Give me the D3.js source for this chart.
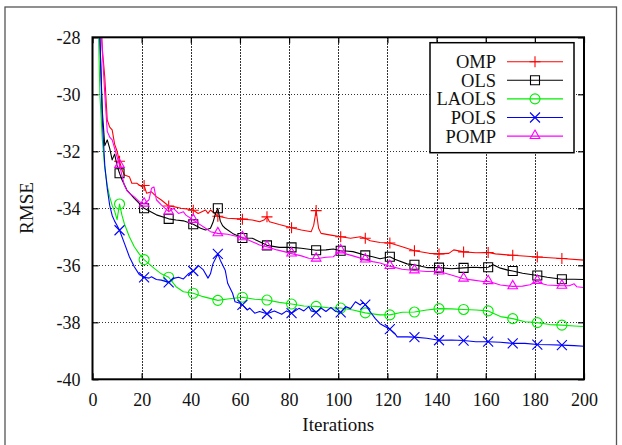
<!DOCTYPE html>
<html>
<head>
<meta charset="utf-8">
<script src="https://cdn.jsdelivr.net/npm/d3@7"></script>
<style>
  html, body { margin: 0; padding: 0; background: #fff; }
  svg { display: block; }
</style>
</head>
<body>
<script>
// RMSE (dB) versus number of iterations for five greedy pursuit algorithms.

const xTicks = [0, 20, 40, 60, 80, 100, 120, 140, 160, 180, 200];
const yTicks = [-28, -30, -32, -34, -36, -38, -40];
const markerIters = [11, 21, 31, 41, 51, 61, 71, 81, 91, 101, 111, 121, 131, 141, 151, 161, 171, 181, 191];

const ompIter = [1,2,3,4,5,6,7,8,9,10,11,12,13,15,16,18,20,21,22,24,26,28,31,33,36,39,41,43,46,47,48,50,51,55,61,65,68,70,71,72,76,81,85,89,90,91,92,93,97,101,105,109,111,113,117,121,126,131,137,141,145,147,151,156,161,164,171,181,191,200];
const ompRmse = [-20,-24,-26.8,-28.4,-29.4,-30.9,-31.15,-31.25,-31.75,-32.0,-32.35,-32.65,-32.83,-32.89,-33.12,-33.12,-33.24,-33.2,-33.47,-33.42,-33.59,-33.71,-33.92,-33.94,-34.0,-34.03,-34.07,-34.18,-34.06,-34.18,-34.06,-34.2,-34.28,-34.35,-34.38,-34.41,-34.47,-34.4,-34.3,-34.47,-34.57,-34.68,-34.76,-34.82,-34.6,-34.08,-34.7,-34.88,-34.94,-35.0,-35.05,-35.0,-35.05,-35.14,-35.2,-35.22,-35.35,-35.49,-35.58,-35.6,-35.58,-35.46,-35.53,-35.56,-35.55,-35.6,-35.65,-35.71,-35.76,-35.82];

const olsIter = [1,2,3,4,5,6,7,8,9,10,11,12,14,17,21,26,31,34,37,41,44,46,48,49,50,51,52,53,54,57,61,65,68,71,76,81,85,91,95,98,101,103,106,111,114,117,121,123,128,131,136,141,146,151,155,158,161,163,166,169,171,175,181,185,191,196,200];
const olsRmse = [-22,-25.5,-28.0,-30.6,-31.8,-31.6,-31.9,-32.3,-32.1,-32.5,-32.77,-33.0,-33.36,-33.65,-34.0,-34.23,-34.37,-34.41,-34.44,-34.56,-34.7,-34.76,-34.7,-34.5,-34.2,-34.0,-34.45,-34.62,-34.7,-34.88,-35.04,-35.05,-35.17,-35.3,-35.37,-35.37,-35.4,-35.47,-35.46,-35.43,-35.49,-35.5,-35.52,-35.65,-35.7,-35.77,-35.7,-35.79,-35.95,-35.98,-36.08,-36.08,-36.12,-36.09,-36.07,-36.08,-36.07,-35.98,-36.1,-36.17,-36.2,-36.28,-36.36,-36.42,-36.49,-36.49,-36.5];

const laolsIter = [1,2,3,4,5,6,7,8,9,10,11,12,13,15,17,19,21,25,28,31,34,37,41,45,51,55,61,66,71,76,81,86,91,96,101,106,111,117,121,126,131,136,141,146,151,156,161,166,171,176,181,186,191,196,200];
const laolsRmse = [-22,-26,-30.0,-31.6,-32.6,-33.2,-33.6,-33.9,-34.1,-34.4,-33.85,-34.25,-34.55,-35.0,-35.35,-35.6,-35.8,-36.1,-36.3,-36.42,-36.75,-36.93,-36.98,-37.1,-37.23,-37.18,-37.12,-37.19,-37.22,-37.3,-37.36,-37.43,-37.44,-37.49,-37.5,-37.57,-37.67,-37.74,-37.74,-37.65,-37.64,-37.57,-37.52,-37.53,-37.55,-37.57,-37.6,-37.8,-37.87,-37.98,-38.01,-38.08,-38.1,-38.13,-38.15];

const polsIter = [1,2,3,4,5,6,7,8,9,10,11,13,15,17,19,21,23,24,26,28,31,33,35,37,39,41,43,45,47,48,49,51,52,54,55,57,58,60,61,63,64,66,68,71,74,77,79,81,84,86,88,89,91,93,95,97,99,101,103,105,107,109,110,111,113,115,117,119,121,123,124,128,131,136,141,146,151,156,161,166,171,176,181,186,191,196,200];
const polsRmse = [-22,-25.5,-28,-30.9,-32.5,-33.3,-33.9,-34.25,-34.45,-34.6,-34.77,-35.23,-35.7,-36.05,-36.32,-36.42,-36.45,-36.4,-36.5,-36.52,-36.6,-36.46,-36.42,-36.48,-36.3,-36.2,-36.0,-36.15,-36.45,-36.3,-35.95,-35.6,-35.82,-36.17,-36.63,-36.98,-37.28,-37.33,-37.39,-37.57,-37.5,-37.68,-37.62,-37.7,-37.6,-37.72,-37.6,-37.68,-37.51,-37.6,-37.45,-37.6,-37.65,-37.5,-37.62,-37.48,-37.62,-37.65,-37.45,-37.52,-37.28,-37.39,-37.3,-37.38,-37.63,-37.86,-38.05,-38.15,-38.24,-38.39,-38.51,-38.51,-38.52,-38.56,-38.63,-38.62,-38.64,-38.68,-38.68,-38.7,-38.74,-38.74,-38.78,-38.79,-38.8,-38.82,-38.84];

const pompIter = [1,2,3,4,5,6,7,8,9,10,11,12,13,14,15,17,19,21,23,24,25,26,28,31,33,35,37,38,41,43,46,48,51,55,58,61,65,68,71,75,78,81,85,88,91,95,98,100,101,103,106,111,114,117,121,126,131,136,141,146,151,155,159,161,166,171,175,178,181,183,185,191,194,196,197,200];
const pompRmse = [-20,-24,-26.8,-28.5,-30.0,-31.3,-31.5,-31.6,-31.9,-32.2,-32.48,-32.85,-33.2,-33.38,-33.47,-33.6,-33.77,-33.84,-33.7,-33.3,-33.25,-33.7,-33.88,-34.12,-34.0,-34.18,-34.12,-34.24,-34.41,-34.53,-34.7,-34.82,-34.88,-34.91,-34.97,-35.02,-35.17,-35.29,-35.35,-35.46,-35.52,-35.59,-35.67,-35.75,-35.77,-35.72,-35.7,-35.55,-35.48,-35.6,-35.67,-35.8,-35.87,-35.92,-36.03,-36.14,-36.18,-36.22,-36.22,-36.34,-36.47,-36.52,-36.57,-36.56,-36.69,-36.74,-36.73,-36.68,-36.55,-36.65,-36.69,-36.72,-36.72,-36.65,-36.75,-36.78];

const seriesNames = ["OMP", "OLS", "LAOLS", "POLS", "POMP"];
const seriesColors = ["#ff0000", "#000000", "#00ee00", "#0000ff", "#ff00ff"];
const seriesSymbols = ["plus", "square", "circle", "cross", "triangle"];
const seriesIters = [ompIter, olsIter, laolsIter, polsIter, pompIter];
const seriesValues = [ompRmse, olsRmse, laolsRmse, polsRmse, pompRmse];

const FONT = "'Liberation Serif', serif";
const W = 622, H = 445;
const plot = { left: 92.5, right: 584, top: 37.3, bottom: 379.3 };

const x = d3.scaleLinear().domain([0, 200]).range([plot.left, plot.right]);
const y = d3.scaleLinear().domain([-40, -28]).range([plot.bottom, plot.top]);

const svg = d3.select("body").append("svg").attr("width", W).attr("height", H)
  .style("font-family", FONT);

// page frame
svg.append("rect")
  .attr("x", 5).attr("y", 7).attr("width", 611.5).attr("height", 450)
  .attr("fill", "none").attr("stroke", "#555").attr("stroke-width", 1.3);

svg.append("clipPath").attr("id", "plotClip")
  .append("rect")
  .attr("x", plot.left).attr("y", plot.top)
  .attr("width", plot.right - plot.left).attr("height", plot.bottom - plot.top);

// dotted grid
const grid = svg.append("g").attr("stroke", "#333").attr("stroke-width", 1)
  .attr("stroke-dasharray", "1.5,1.5").attr("shape-rendering", "crispEdges");
grid.selectAll(".gx").data(xTicks.slice(1, -1)).enter().append("line")
  .attr("x1", d => Math.round(x(d)) + 0.5).attr("x2", d => Math.round(x(d)) + 0.5)
  .attr("y1", plot.top).attr("y2", plot.bottom);
grid.selectAll(".gy").data(yTicks.slice(1, -1)).enter().append("line")
  .attr("y1", d => Math.round(y(d)) + 0.5).attr("y2", d => Math.round(y(d)) + 0.5)
  .attr("x1", plot.left).attr("x2", plot.right);

// axes: labels outside, inward ticks mirrored on all sides
const tickLen = 6;
const plain = d => String(d);
const xAxisB = d3.axisBottom(x).tickValues(xTicks).tickFormat(plain).tickSizeInner(-tickLen).tickSizeOuter(0).tickPadding(14);
const xAxisT = d3.axisTop(x).tickValues(xTicks).tickSizeInner(-tickLen).tickSizeOuter(0).tickFormat("");
const yAxisL = d3.axisLeft(y).tickValues(yTicks).tickFormat(plain).tickSizeInner(-tickLen).tickSizeOuter(0).tickPadding(12);
const yAxisR = d3.axisRight(y).tickValues(yTicks).tickSizeInner(-tickLen).tickSizeOuter(0).tickFormat("");

function styleAxis(g) {
  g.attr("font-family", null).attr("font-size", null);
  g.select(".domain").remove();
  g.selectAll(".tick line").attr("stroke", "#000").attr("stroke-width", 1.2);
  g.selectAll(".tick text").style("font-family", FONT).style("font-size", "18px").attr("fill", "#111");
}
svg.append("g").attr("transform", `translate(0,${plot.bottom})`).call(xAxisB).call(styleAxis);
svg.append("g").attr("transform", `translate(0,${plot.top})`).call(xAxisT).call(styleAxis);
svg.append("g").attr("transform", `translate(${plot.left},0)`).call(yAxisL).call(styleAxis);
svg.append("g").attr("transform", `translate(${plot.right},0)`).call(yAxisR).call(styleAxis);

// marker shapes
function symbolPath(kind) {
  switch (kind) {
    case "plus": return "M-5.5,0H5.5M0,-5.5V5.5";
    case "square": return "M-4.5,-4.5H4.5V4.5H-4.5Z";
    case "circle": return "M5,0A5,5 0 1,1 -5,0A5,5 0 1,1 5,0Z";
    case "cross": return "M-5,-5L5,5M-5,5L5,-5";
    case "triangle": return "M0,-6L4.8,2.4H-4.8Z";
  }
}

const curves = svg.append("g").attr("clip-path", "url(#plotClip)");
const line = d3.line().x(d => x(d[0])).y(d => y(d[1]));

seriesNames.forEach((name, i) => {
  const pts = seriesIters[i].map((it, k) => [it, seriesValues[i][k]]);
  curves.append("path").datum(pts)
    .attr("d", line).attr("fill", "none")
    .attr("stroke", seriesColors[i]).attr("stroke-width", 1.1)
    .attr("stroke-linejoin", "round");
  const marks = pts.filter(p => markerIters.includes(p[0]));
  curves.selectAll(null).data(marks).enter().append("path")
    .attr("d", symbolPath(seriesSymbols[i]))
    .attr("transform", p => `translate(${x(p[0])},${y(p[1])})`)
    .attr("fill", "none").attr("stroke", seriesColors[i]).attr("stroke-width", 1.1);
});

// plot border
svg.append("rect")
  .attr("x", plot.left).attr("y", plot.top)
  .attr("width", plot.right - plot.left).attr("height", plot.bottom - plot.top)
  .attr("fill", "none").attr("stroke", "#000").attr("stroke-width", 2);

// legend
const leg = { x0: 430, y0: 42.7, x1: 574, y1: 152.7, rowTop: 61.7, rowStep: 18.6 };
svg.append("rect")
  .attr("x", leg.x0).attr("y", leg.y0)
  .attr("width", leg.x1 - leg.x0).attr("height", leg.y1 - leg.y0)
  .attr("fill", "#fff").attr("stroke", "#000").attr("stroke-width", 1.5);
seriesNames.forEach((name, i) => {
  const ly = leg.rowTop + i * leg.rowStep;
  svg.append("text").attr("x", 496).attr("y", ly).attr("dy", "0.35em")
    .attr("text-anchor", "end").style("font-size", "18.5px").attr("fill", "#111").text(name);
  svg.append("line").attr("x1", 507).attr("x2", 563).attr("y1", ly).attr("y2", ly)
    .attr("stroke", seriesColors[i]).attr("stroke-width", 1.1);
  svg.append("path").attr("d", symbolPath(seriesSymbols[i]))
    .attr("transform", `translate(535,${ly})`)
    .attr("fill", "none").attr("stroke", seriesColors[i]).attr("stroke-width", 1.1);
});

// axis titles
svg.append("text").attr("x", x(100)).attr("y", 431)
  .attr("text-anchor", "middle").style("font-size", "19px").attr("fill", "#111").text("Iterations");
svg.append("text").attr("transform", "translate(33,208) rotate(-90)")
  .attr("text-anchor", "middle").style("font-size", "19px").attr("fill", "#111").text("RMSE");
</script>
</body>
</html>
